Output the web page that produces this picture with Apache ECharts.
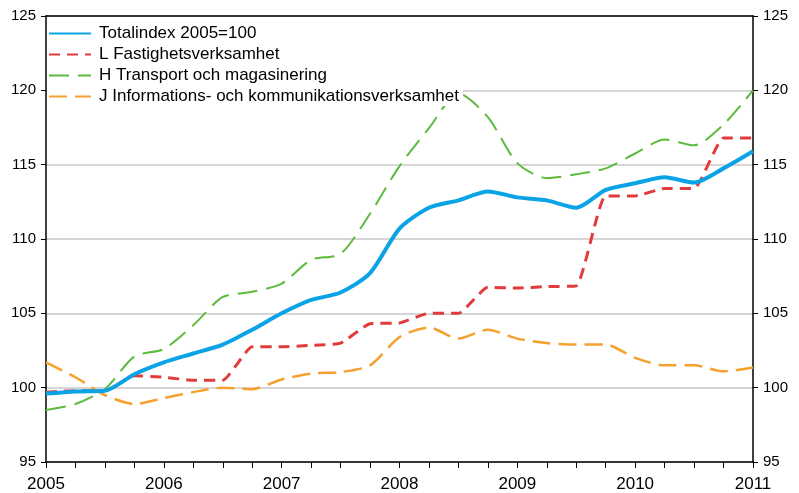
<!DOCTYPE html>
<html><head><meta charset="utf-8">
<script src="https://cdn.jsdelivr.net/npm/echarts@6/dist/echarts.min.js"></script>
<style>html,body{margin:0;padding:0;background:#fff}#c{width:799px;height:493px}</style>
</head><body><div id="c"></div>
<script>
var quarters = ["2005Q1","2005Q2","2005Q3","2005Q4","2006Q1","2006Q2","2006Q3","2006Q4","2007Q1","2007Q2","2007Q3","2007Q4","2008Q1","2008Q2","2008Q3","2008Q4","2009Q1","2009Q2","2009Q3","2009Q4","2010Q1","2010Q2","2010Q3","2010Q4","2011Q1"];
var seriesNames = ["Totalindex 2005=100","L Fastighetsverksamhet","H Transport och magasinering","J Informations- och kommunikationsverksamhet"];
var totalindex = [99.6,99.75,99.8,100.9,101.7,102.3,102.9,103.9,105.0,105.9,106.4,107.7,110.7,112.1,112.6,113.2,112.8,112.6,112.1,113.3,113.75,114.15,113.8,114.75,115.9];
var fastighet = [99.7,99.8,99.8,100.8,100.7,100.5,100.5,102.75,102.75,102.85,103.0,104.3,104.35,105.0,105.0,106.75,106.7,106.8,106.85,112.9,112.9,113.4,113.4,116.8,116.8];
var transport = [98.5,98.9,99.9,102.1,102.6,104.2,106.1,106.45,107.0,108.6,109.0,111.7,114.9,117.45,119.8,118.2,115.1,114.1,114.35,114.75,115.75,116.7,116.3,117.7,120.0];
var information = [101.7,100.7,99.5,98.9,99.3,99.7,100.0,99.9,100.55,100.95,101.05,101.5,103.4,104.05,103.3,103.9,103.3,103.0,102.9,102.9,102.0,101.5,101.5,101.1,101.35];
var yTicks = [95,100,105,110,115,120,125];

var chart = echarts.init(document.getElementById('c'), null, {renderer:'canvas'});
var font = 'Liberation Sans, Arial, sans-serif';
var yMin = yTicks[0], yMax = yTicks[yTicks.length-1];
function yAxis(pos){
  return {type:'value', position:pos, min:yMin, max:yMax, interval:5,
    axisLine:{show:true, lineStyle:{color:'#000', width:1.5}},
    axisTick:{show:true, length:5, lineStyle:{color:'#000'}},
    axisLabel:{color:'#000', fontSize:15, fontFamily:font, margin:10},
    splitLine:{show:pos==='left', lineStyle:{color:'#c8c8c8', width:1.5}}};
}
chart.setOption({
  animation:false,
  backgroundColor:'#fff',
  grid:{left:46, right:46, top:16, bottom:31, containLabel:false},
  legend:{orient:'vertical', left:47, top:24, backgroundColor:'#fff', padding:[1,4,1,1],
    itemWidth:42, itemHeight:10, itemGap:4, itemStyle:{opacity:0},
    textStyle:{fontSize:17, fontFamily:font, color:'#000', padding:[0,0,0,3]},
    data:seriesNames},
  xAxis:[{type:'category', data:quarters, boundaryGap:false,
    axisLine:{lineStyle:{color:'#000', width:1.5}},
    axisTick:{show:true, interval:0, length:6, lineStyle:{color:'#000'}},
    axisLabel:{interval:0, color:'#000', fontSize:17, fontFamily:font, margin:14,
      formatter:function(v){return v.slice(4)==='Q1'? v.slice(0,4) : '';}},
    splitLine:{show:false}},
   {type:'category', data:quarters, boundaryGap:false, position:'top',
    axisLine:{show:true, lineStyle:{color:'#000', width:1.5}},
    axisTick:{show:false}, axisLabel:{show:false}}],
  yAxis:[yAxis('left'), yAxis('right')],
  series:[
    {name:seriesNames[0], type:'line', data:totalindex, smooth:0.25, symbol:'none', z:5,
      lineStyle:{color:'#0aa3e6', width:4}, itemStyle:{color:'#0aa3e6'}},
    {name:seriesNames[1], type:'line', data:fastighet, smooth:0.15, symbol:'none', z:4,
      lineStyle:{color:'#e23b3b', width:3, type:[11,7]}, itemStyle:{color:'#e23b3b'}},
    {name:seriesNames[2], type:'line', data:transport, smooth:0.25, symbol:'none', z:3,
      lineStyle:{color:'#5cbb3c', width:2, type:[20,9]}, itemStyle:{color:'#5cbb3c'}},
    {name:seriesNames[3], type:'line', data:information, smooth:0.25, symbol:'none', z:2,
      lineStyle:{color:'#f6a030', width:2.5, type:[18,8]}, itemStyle:{color:'#f6a030'}}
  ]
});
</script></body></html>
